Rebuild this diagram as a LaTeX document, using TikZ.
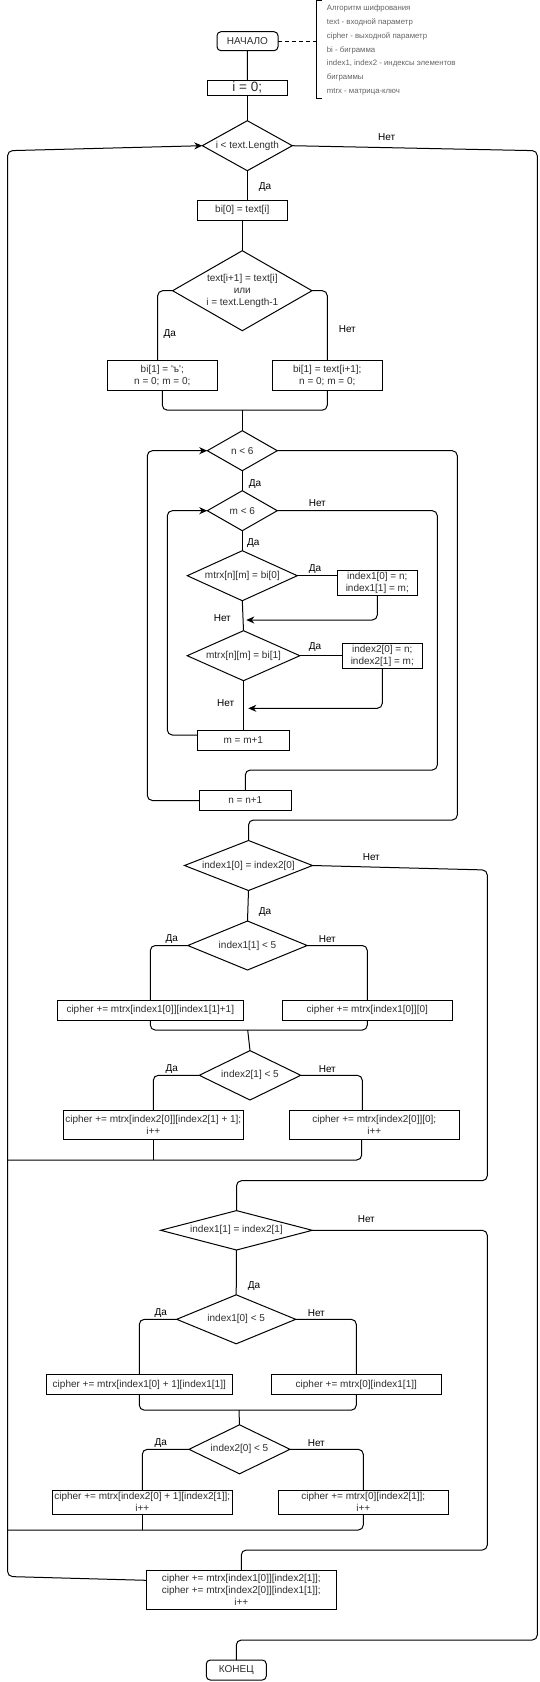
\documentclass[tikz,border=0pt]{standalone}
\usepackage{fontspec}
\setmainfont{Liberation Sans}
\usetikzlibrary{shapes.geometric,arrows.meta,calc}
\definecolor{tx}{RGB}{45,45,45}
\definecolor{nt}{RGB}{100,100,100}
\newcommand\tfont{\fontsize{10}{12}\selectfont}
\tikzset{
  ln/.style={line width=1pt, rounded corners=5pt},
  arr/.style={ln, -{Stealth[length=8pt,width=7pt,inset=2.5pt]}},
  bx/.style 2 args={draw, line width=1pt, rectangle, inner sep=0pt, outer sep=0pt,
     minimum width=#1pt, minimum height=#2pt, font=\tfont, text=tx, align=center},
  tm/.style 2 args={bx={#1}{#2}, rounded corners=4pt},
  dia/.style 2 args={draw, line width=1pt, diamond, inner sep=0pt, outer sep=0pt,
     minimum width=#1pt, minimum height=#2pt},
  dtx/.style={inner sep=0pt, font=\tfont, text=tx, align=center},
  lbl/.style={inner sep=0pt, font=\tfont, text=black},
}
\begin{document}
\begin{tikzpicture}[x=1pt,y=-1pt]
\useasboundingbox (0,0) rectangle (539,1682);

% annotation
\node[tm={61}{19}] (st) at (247.5,41.2) {НАЧАЛО};
\node[anchor=west, inner sep=0pt, align=left, text=nt, font=\fontsize{7.8}{13.9}\selectfont] (note) at (326.7,50)
  {Алгоритм шифрования\\text - входной параметр\\cipher - выходной параметр\\bi - биграмма\\index1, index2 - индексы элементов\\биграммы\\mtrx - матрица-ключ};
\draw[line width=1pt] (321.7,0.5) -- (316.7,0.5) -- (316.7,98.3) -- (321.7,98.3);
\coordinate (brk) at (316.7,41.2);
\draw[line width=1pt, dash pattern=on 4pt off 3pt] (st.east) -- (brk);

% nodes
\node[bx={80}{15}, font=\fontsize{13.5}{15}\selectfont] (i0) at (247.3,87.5) {i = 0;};
\node[dia={90}{50}] (d1) at (247.3,145.7) {};
\node[dtx] (d1t) at (d1) {i < text.Length};
\node[bx={90}{20}] (b0) at (242.3,210.2) {bi[0] = text[i]};
\node[dia={139.4}{80}] (d2) at (242.3,290.7) {};
\node[dtx] (d2t) at (d2) {text[i+1] = text[i]\\или\\i = text.Length-1};
\node[bx={110}{30}] (bL1) at (162.3,375.2) {bi[1] = \textquotesingle ъ\textquotesingle;\\n = 0; m = 0;};
\node[bx={110}{30}] (bR1) at (327.3,375.2) {bi[1] = text[i+1];\\n = 0; m = 0;};
\node[dia={70}{40}] (d3) at (242.3,450.7) {};
\node[dtx] (d3t) at (d3) {n < 6};
\node[dia={70}{40}] (d4) at (242.3,510.7) {};
\node[dtx] (d4t) at (d4) {m < 6};
\node[dia={110}{50}] (d5) at (242.3,575.7) {};
\node[dtx] (d5t) at (d5) {mtrx[n][m] = bi[0]};
\node[bx={80}{25}] (bI1) at (377.3,582.8) {index1[0] = n;\\index1[1] = m;};
\node[dia={112.6}{50}] (d6) at (243.5,655.7) {};
\node[dtx] (d6t) at (d6) {mtrx[n][m] = bi[1]};
\node[bx={80}{25}] (bI2) at (382.3,655.8) {index2[0] = n;\\index2[1] = m;};
\node[bx={92}{20}] (bm) at (243.3,740) {m = m+1};
\node[bx={92}{20}] (bn) at (245.3,800.5) {n = n+1};
\node[dia={128}{50}] (d7) at (248.5,865.5) {};
\node[dtx] (d7t) at (d7) {index1[0] = index2[0]};
\node[dia={119.4}{49}] (d8) at (247.5,945.5) {};
\node[dtx] (d8t) at (d8) {index1[1] < 5};
\node[bx={186}{19.5}] (bA) at (150.3,1010.3) {cipher += mtrx[index1[0]][index1[1]+1]};
\node[bx={170}{19.5}] (bB) at (367.3,1010.3) {cipher += mtrx[index1[0]][0]};
\node[dia={101.4}{49.4}] (d9) at (250,1075.3) {};
\node[dtx] (d9t) at (d9) {index2[1] < 5};
\node[bx={180}{29.3}] (bC) at (153.3,1125.3) {cipher += mtrx[index2[0]][index2[1] + 1];\\i++};
\node[bx={170}{29.3}] (bD) at (374.3,1125.3) {cipher += mtrx[index2[0]][0];\\i++};
\node[dia={151.6}{39.4}] (d10) at (236.5,1230.3) {};
\node[dtx] (d10t) at (d10) {index1[1] = index2[1]};
\node[dia={119}{49}] (d11) at (236.2,1319.3) {};
\node[dtx] (d11t) at (d11) {index1[0] < 5};
\node[bx={186}{19.5}] (bE) at (139.3,1384.7) {cipher += mtrx[index1[0] + 1][index1[1]]};
\node[bx={170}{19.5}] (bF) at (356.3,1384.7) {cipher += mtrx[0][index1[1]]};
\node[dia={101}{49}] (d12) at (239.5,1449.3) {};
\node[dtx] (d12t) at (d12) {index2[0] < 5};
\node[bx={180}{23.5}] (bG) at (142.3,1502.3) {cipher += mtrx[index2[0] + 1][index2[1]];\\i++};
\node[bx={170}{23.5}] (bH) at (363.3,1502.3) {cipher += mtrx[0][index2[1]];\\i++};
\node[bx={190}{39.3}] (bfin) at (241.3,1590.3) {cipher += mtrx[index1[0]][index2[1]];\\cipher += mtrx[index2[0]][index1[1]];\\i++};
\node[tm={60}{20}] (en) at (236.3,1670) {КОНЕЦ};

% connectors
\draw[ln] (st.south) -- (i0.north);
\draw[ln] (i0.south) -- (d1.north);
\draw[ln] (d1.south) -- (d1.south |- b0.north);
\draw[ln] (b0.south) -- (d2.north);
\draw[ln] (d2.west) -| ([xshift=-4.6pt]bL1.north);
\draw[ln] (d2.east) -| (bR1.north);
\draw[ln] (bL1.south) -- ++(0,20) -| (bR1.south);
\coordinate (j1) at (242.3,410);
\draw[ln] (j1) -- (d3.north);
\draw[ln] (d3.south) -- (d4.north);
\draw[ln] (d4.south) -- (d5.north);
\draw[ln] (d5.east) -- (bI1.west |- d5.east);
\coordinate (a1) at (246.3,620);
\draw[arr] (bI1.south) |- (a1);
\draw[ln] (d5.south) -- (d6.north);
\draw[ln] (d6.east) -- (bI2.west |- d6.east);
\coordinate (a2) at (248.3,708.3);
\draw[arr] (bI2.south) |- (a2);
\draw[ln] (d6.south) -- (d6.south |- bm.north);
\draw[arr] ([yshift=5pt]bm.west) -| ([xshift=-40pt]d4.west) -- (d4.west);
\draw[ln] (d4.east) -| (437.3,770) -| (bn.north);
\draw[arr] (bn.west) -| ([xshift=-60pt]d3.west) -- (d3.west);
\draw[ln] (d3.east) -| (457.3,820) -| (d7.north);
\draw[ln] (d7.south) -- (d8.north);
\draw[ln] (d7.east) -- (487.3,870) -- (487.3,1180.7) -| (d10.north);
\draw[ln] (d8.west) -| (bA.north);
\draw[ln] (d8.east) -| (bB.north);
\draw[ln] (bA.south) -- ++(0,10) -| (bB.south);
\coordinate (j2) at (247.7,1030);
\draw[ln] (j2) -- (d9.north);
\draw[ln] (d9.west) -| (bC.north);
\draw[ln] (d9.east) -| ([xshift=-12pt]bD.north);
\coordinate (o2) at (7.6,1160);
\draw[ln] ([xshift=-12.6pt]bD.south) |- (o2);
\draw[ln] (bC.south) -- (bC.south |- o2);
\draw[ln] (d10.east) -| (487.3,1550) -| (bfin.north);
\draw[ln] (d10.south) -- (d11.north);
\draw[ln] (d11.west) -| (bE.north);
\draw[ln] (d11.east) -| (bF.north);
\draw[ln] (bE.south) -- ++(0,15.7) -| (bF.south);
\coordinate (j3) at (239,1410);
\draw[ln] (j3) -- (d12.north);
\draw[ln] (d12.west) -| (bG.north);
\draw[ln] (d12.east) -| (bH.north);
\coordinate (o3) at (7.6,1530);
\draw[ln] (bH.south) |- (o3);
\draw[ln] (bG.south) -- (bG.south |- o3);
\draw[arr] ([yshift=10pt]bfin.west) -- (7.6,1576.5) -- (7.6,150.7) -- (d1.west);
\draw[ln] (d1.east) -- (537.3,150.7) -- (537.3,1640) -| (en.north);

% branch labels
\node[lbl] (l1) at (386.7,136.7) {Нет};
\node[lbl] (l2) at (265,186.7) {Да};
\node[lbl] (l3) at (169.7,334) {Да};
\node[lbl] (l4) at (347.3,328.7) {Нет};
\node[lbl] (l5) at (255,484) {Да};
\node[lbl] (l6) at (317.3,503.3) {Нет};
\node[lbl] (l7) at (253.3,542.7) {Да};
\node[lbl] (l8) at (315,569) {Да};
\node[lbl] (l9) at (222.3,618.3) {Нет};
\node[lbl] (l10) at (315,646.7) {Да};
\node[lbl] (l11) at (225.7,703.3) {Нет};
\node[lbl] (l12) at (371.3,857.3) {Нет};
\node[lbl] (l13) at (265,912.3) {Да};
\node[lbl] (l14) at (171.7,939) {Да};
\node[lbl] (l15) at (327.3,939) {Нет};
\node[lbl] (l16) at (171.7,1069) {Да};
\node[lbl] (l17) at (327.3,1069) {Нет};
\node[lbl] (l18) at (366.3,1218.7) {Нет};
\node[lbl] (l19) at (254,1285.7) {Да};
\node[lbl] (l20) at (160.7,1312.7) {Да};
\node[lbl] (l21) at (316.3,1312.7) {Нет};
\node[lbl] (l22) at (160.7,1442.7) {Да};
\node[lbl] (l23) at (316.3,1442.7) {Нет};
\end{tikzpicture}
\end{document}
